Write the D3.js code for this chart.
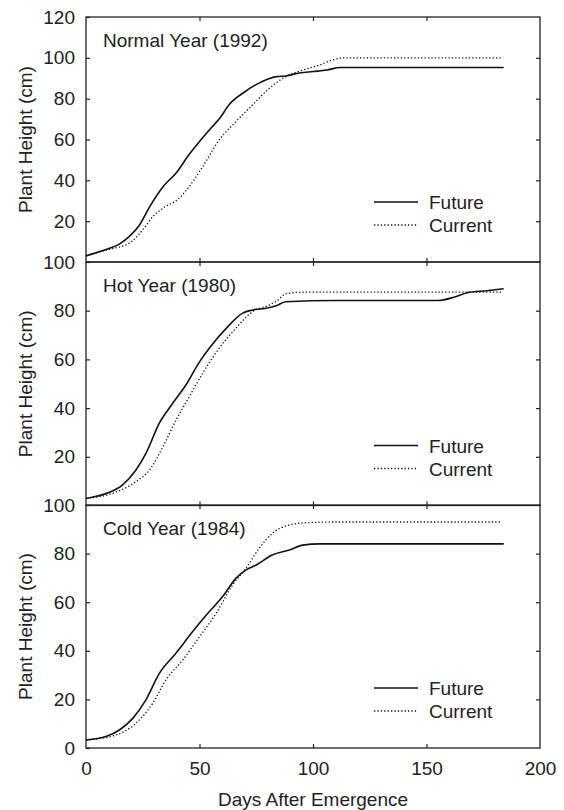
<!DOCTYPE html>
<meta charset="utf-8">
<script src="https://d3js.org/d3.v7.min.js"></script>
<style>
body { margin: 0; background: #fff; }
text { font-family: "Liberation Sans", Arial, sans-serif; fill: #222; }
.tick line { stroke: #222; stroke-width: 1.2px; }
</style>
<div id="my_dataviz"></div>
<script>
// panel titles and y tick values
var panelTitles = ["Normal Year (1992)", "Hot Year (1980)", "Cold Year (1984)"];
var panelYMax = [120, 100, 100];
var panelYLabels = [[20, 40, 60, 80, 100, 120], [20, 40, 60, 80, 100], [0, 20, 40, 60, 80, 100]];
var xTicks = [0, 50, 100, 150, 200];
var legendLabels = ["Future", "Current"];

// [day, height]
var normalFuture = [[0,3],[7,5.5],[15,9],[19,12.4],[23.5,18],[28,27],[34,37],[40,44],[45,52],[50,59],[55,65.5],[59,70.5],[63,77],[70,83.4],[76,87.5],[84,90.8],[88,91.1],[94,92.6],[100,93.3],[106,94],[112,95.3],[184,95.3]];
var normalCurrent = [[0,3],[9,5.9],[19,9.2],[25,15.7],[29.4,22.2],[33.8,26.3],[41,31.2],[45.5,37],[51.4,46.7],[58.7,59.8],[66,68.7],[73.4,77],[80.7,85],[88,90.8],[95.5,94],[103,96.5],[108.7,99],[113,100],[183,100]];
var hotFuture = [[0,2.9],[10,5.3],[16,8.4],[22,14.6],[26.4,21.4],[32.3,33.8],[38.2,42],[44,49.5],[50,59],[54.3,64.6],[63,74],[69,79],[73.4,80.3],[79.3,81],[83.7,82],[88,83.7],[110,84.2],[155,84.2],[162,85.5],[168,87.4],[176.5,88.2],[184,89]];
var hotCurrent = [[0,2.9],[11.7,5],[22,9.8],[28,14.6],[33.8,24],[39.6,35],[45.5,44.7],[51.4,54.3],[58.7,64.6],[66,72.8],[73.4,79.6],[80.7,82.3],[84,84],[88,86.9],[95.5,87.6],[183,87.6]];
var coldFuture = [[0,3.3],[8.8,4.7],[14.7,7.4],[20.6,12.2],[26.4,19.8],[32.3,30.7],[39.6,39],[47,47.9],[53,54.7],[60.2,62.3],[66,69.8],[70.5,73.3],[75,75.3],[82,79.4],[89.6,81.5],[95.5,83.5],[103,84],[184,84]];
var coldCurrent = [[0,3.3],[13,5.3],[22,10.2],[29.4,18.4],[35.2,28],[42.6,36.2],[50,45.8],[57.3,55.4],[64.6,67.1],[70.5,74],[76.3,82.2],[82.2,88.4],[89.6,91.8],[97,92.7],[110,93],[183,93]];

var panelSeries = [[normalFuture, normalCurrent], [hotFuture, hotCurrent], [coldFuture, coldCurrent]];

var width = 564, height = 810;
var left = 86, right = 540;
var panelTop = [17, 262, 505];
var panelBottom = [262, 505.5, 748];
var fontSize = "19px";

var svg = d3.select("#my_dataviz")
  .append("svg")
    .attr("width", width)
    .attr("height", height);

var x = d3.scaleLinear().domain([0, 200]).range([left, right]);

var dashes = [null, "1.3,2.1"];

panelTitles.forEach(function(title, i) {
  var y = d3.scaleLinear().domain([0, panelYMax[i]]).range([panelBottom[i], panelTop[i]]);
  var g = svg.append("g");

  // frame
  g.append("rect")
    .attr("x", left).attr("y", panelTop[i])
    .attr("width", right - left).attr("height", panelBottom[i] - panelTop[i])
    .attr("fill", "none").attr("stroke", "#222").attr("stroke-width", 1.3);

  // y ticks, inward, labels on the left
  var yl = g.append("g")
    .attr("transform", "translate(" + left + ",0)")
    .call(d3.axisLeft(y).tickValues(panelYLabels[i]).tickSize(-4).tickPadding(11).tickSizeOuter(0));
  yl.select(".domain").remove();
  yl.selectAll("text").style("font-size", fontSize).attr("fill", "#222");

  var yr = g.append("g")
    .attr("transform", "translate(" + right + ",0)")
    .call(d3.axisRight(y).tickValues(d3.range(20, panelYMax[i], 20)).tickSize(-4).tickFormat(""));
  yr.select(".domain").remove();

  // x ticks top and bottom, inward
  var xt = g.append("g")
    .attr("transform", "translate(0," + panelTop[i] + ")")
    .call(d3.axisTop(x).tickValues([50, 100, 150]).tickSize(-4).tickFormat(""));
  xt.select(".domain").remove();

  var xb = g.append("g")
    .attr("transform", "translate(0," + panelBottom[i] + ")")
    .call(d3.axisBottom(x).tickValues(i == 2 ? xTicks : [50, 100, 150]).tickSize(-4).tickPadding(14)
      .tickFormat(i == 2 ? d3.format("d") : ""));
  xb.select(".domain").remove();
  xb.selectAll("text").style("font-size", fontSize).attr("fill", "#222");
  xb.selectAll(".tick").filter(function(d) { return d == 0 || d == 200; }).select("line").remove();

  // y axis label
  g.append("text")
    .attr("transform", "translate(25," + ((panelTop[i] + panelBottom[i]) / 2) + ") rotate(-90)")
    .attr("text-anchor", "middle")
    .attr("dy", "0.35em")
    .style("font-size", fontSize)
    .text("Plant Height (cm)");

  // panel title
  g.append("text")
    .attr("x", 103)
    .attr("y", panelTop[i] + 30)
    .style("font-size", fontSize)
    .text(title);

  // curves
  var line = d3.line()
    .x(function(d) { return x(d[0]); })
    .y(function(d) { return y(d[1]); })
    .curve(d3.curveMonotoneX);

  panelSeries[i].forEach(function(s, k) {
    g.append("path")
      .datum(s)
      .attr("fill", "none")
      .attr("stroke", "#111")
      .attr("stroke-width", k == 0 ? 1.6 : 1.3)
      .attr("stroke-dasharray", dashes[k])
      .attr("d", line);
  });

  // legend
  legendLabels.forEach(function(lab, k) {
    var ly = panelBottom[i] - 60 + k * 23;
    g.append("line")
      .attr("x1", 374).attr("x2", 418)
      .attr("y1", ly).attr("y2", ly)
      .attr("stroke", "#111")
      .attr("stroke-width", k == 0 ? 1.6 : 1.3)
      .attr("stroke-dasharray", dashes[k]);
    g.append("text")
      .attr("x", 429)
      .attr("y", ly + 7)
      .style("font-size", fontSize)
      .text(lab);
  });
});

// x axis title
svg.append("text")
  .attr("x", (left + right) / 2)
  .attr("y", 806)
  .attr("text-anchor", "middle")
  .style("font-size", fontSize)
  .text("Days After Emergence");
</script>
